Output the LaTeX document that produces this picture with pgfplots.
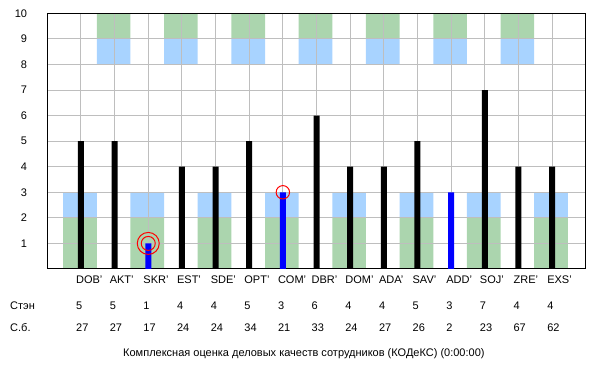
\documentclass[border=0pt]{standalone}
\usepackage{pgfplots}
\pgfplotsset{compat=1.18}
\usepackage{fontspec}
\setmainfont{Liberation Sans}
\definecolor{bandgreen}{RGB}{171,213,174}
\definecolor{bandblue}{RGB}{168,211,255}
\definecolor{gridgray}{RGB}{190,190,190}
\begin{document}
\begin{tikzpicture}[x=1pt,y=1pt]
\path[use as bounding box] (0,0) rectangle (615,385);
% background bands
\begin{axis}[
 at={(47.3pt,116pt)}, anchor=south west,
 width=538.4pt, height=255.7pt, scale only axis,
 xmin=0, xmax=16, ymin=0, ymax=10,
 hide axis, clip=false,
 ybar stacked, bar width=1, bar shift=-1pt,
]
\addplot[draw=none, fill=none] coordinates {(1,0)(2,8)(3,0)(4,8)(5,0)(6,8)(7,0)(8,8)(9,0)(10,8)(11,0)(12,8)(13,0)(14,8)(15,0)};
\addplot[draw=none, fill=bandgreen] coordinates {(1,2)(2,0)(3,2)(4,0)(5,2)(6,0)(7,2)(8,0)(9,2)(10,0)(11,2)(12,0)(13,2)(14,0)(15,2)};
\addplot[draw=none, fill=bandblue] coordinates {(1,1)(2,1)(3,1)(4,1)(5,1)(6,1)(7,1)(8,1)(9,1)(10,1)(11,1)(12,1)(13,1)(14,1)(15,1)};
\addplot[draw=none, fill=bandgreen] coordinates {(1,0)(2,1)(3,0)(4,1)(5,0)(6,1)(7,0)(8,1)(9,0)(10,1)(11,0)(12,1)(13,0)(14,1)(15,0)};
\end{axis}
% main axis
\begin{axis}[
 at={(47.3pt,116pt)}, anchor=south west,
 width=538.4pt, height=255.7pt, scale only axis,
 xmin=0, xmax=16, ymin=0, ymax=10,
 axis line style={black, line width=1pt},
 grid=major, major grid style={gridgray, line width=1pt},
 xtick={1,...,15}, ytick={1,...,10},
 major tick length=0pt,
 xticklabels={{DOB'\\[4pt]5\\27},{AKT'\\[4pt]5\\27},{SKR'\\[4pt]1\\17},{EST'\\[4pt]4\\24},{SDE'\\[4pt]4\\24},{OPT'\\[4pt]5\\34},{COM'\\[4pt]3\\21},{DBR'\\[4pt]6\\33},{DOM'\\[4pt]4\\24},{ADA'\\[4pt]4\\27},{SAV'\\[4pt]5\\26},{ADD'\\[4pt]3\\2},{SOJ'\\[4pt]7\\23},{ZRE'\\[4pt]4\\67},{EXS'\\[4pt]4\\62}},
 xticklabel style={anchor=north west, align=left, inner sep=0pt, xshift=-5pt, yshift=-7pt, font=\fontsize{11}{22}\selectfont},
 yticklabel style={anchor=east, inner sep=0pt, xshift=-20pt, font=\fontsize{11}{13}\selectfont},
 /pgf/number format/assume math mode=true,
]
\addplot[ybar, bar width=6pt, bar shift=0pt, fill=black, draw=none] coordinates {(1,5)(2,5)(4,4)(5,4)(6,5)(8,6)(9,4)(10,4)(11,5)(13,7)(14,4)(15,4)};
\addplot[ybar, bar width=6pt, bar shift=0pt, fill=blue, draw=none] coordinates {(3,1)(7,3)(12,3)};
\addplot[only marks, mark=o, mark size=11pt, red, line width=1pt] coordinates {(3,1)};
\addplot[only marks, mark=o, mark size=7pt, red, line width=1pt] coordinates {(3,1)};
\addplot[only marks, mark=o, mark size=6.7pt, red, line width=1pt] coordinates {(7,3)};
\end{axis}
\node[anchor=base west, inner sep=0pt, font=\fontsize{11}{13}\selectfont] at (10,75) {Стэн};
\node[anchor=base west, inner sep=0pt, font=\fontsize{11}{13}\selectfont] at (10,53) {С.б.};
\node[anchor=base west, inner sep=0pt, font=\fontsize{11}{13}\selectfont] at (123,28.3) {Комплексная оценка деловых качеств сотрудников (КОДеКС) (0:00:00)};
\end{tikzpicture}
\end{document}
